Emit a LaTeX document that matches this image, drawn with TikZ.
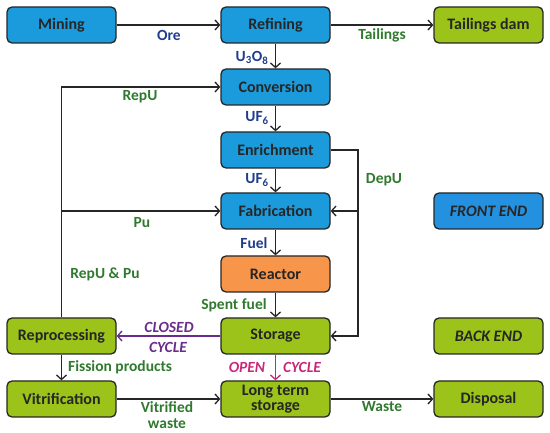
\documentclass[tikz,border=0pt]{standalone}
\usepackage{fontspec}
\setmainfont{Carlito}
\usetikzlibrary{arrows.meta}
\definecolor{bluebox}{HTML}{1B9BDB}
\definecolor{bluebox2}{HTML}{2490E0}
\definecolor{greenbox}{HTML}{9BC31A}
\definecolor{orangebox}{HTML}{F7964A}
\definecolor{bluelab}{HTML}{1F3D8C}
\definecolor{greenlab}{HTML}{2F7A2F}
\definecolor{purplec}{HTML}{6A2C8C}
\definecolor{magentac}{HTML}{C8287A}
\tikzset{
  box/.style={draw=black!85, line width=1.3pt, rounded corners=5pt,
    minimum width=109pt, minimum height=36pt, inner sep=2pt, align=center,
    font=\bfseries\fontsize{16}{15}\selectfont, text=black!85},
  bbox/.style={box, fill=bluebox},
  gbox/.style={box, fill=greenbox},
  obox/.style={box, fill=orangebox},
  arr/.style={line width=1.3pt, draw=black!85, -{Straight Barb[length=4.5pt,width=10pt,line width=1.3pt]}},
  lab/.style={font=\bfseries\fontsize{15.5}{15}\selectfont, inner sep=1pt},
  blab/.style={lab, text=bluelab},
  glab/.style={lab, text=greenlab},
}
\begin{document}
\begin{tikzpicture}[x=1pt,y=-1pt]
\useasboundingbox (0,0) rectangle (550,433);
% boxes
\node[bbox] (min) at (61.5,25) {Mining};
\node[bbox] (ref) at (275.5,25) {Refining};
\node[gbox] (tail) at (488.5,25) {Tailings dam};
\node[bbox] (conv) at (275.5,87) {Conversion};
\node[bbox] (enr) at (275.5,150) {Enrichment};
\node[bbox] (fab) at (275.5,211) {Fabrication};
\node[bbox, fill=bluebox2] (front) at (488.5,211) {\itshape FRONT END};
\node[obox] (reac) at (275.5,274) {Reactor};
\node[gbox] (sto) at (275.5,336) {Storage};
\node[gbox] (rep) at (61.5,336) {Reprocessing};
\node[gbox] (back) at (488.5,336) {\itshape BACK END};
\node[gbox] (vit) at (61.5,399) {Vitrification};
\node[gbox] (lts) at (275.5,399) {Long term\\storage};
\node[gbox] (disp) at (488.5,399) {Disposal};
% coordinates
\coordinate (dep) at (358,150);
% connectors
\draw[arr] (min) -- (ref);
\draw[arr] (ref) -- (tail);
\draw[arr] (ref) -- (conv);
\draw[arr] (conv) -- (enr);
\draw[arr] (enr) -- (fab);
\draw[arr] (fab) -- (reac);
\draw[arr] (reac) -- (sto);
\draw[arr] (rep.north) |- (conv.west);
\draw[arr] (rep.north |- fab.west) -- (fab.west);
\draw[arr] (enr.east) -- (dep) |- (sto.east);
\draw[arr] (dep |- fab.east) -- (fab.east);
\draw[arr, draw=purplec, -{Straight Barb[length=4.5pt,width=10pt,line width=1.3pt,color=purplec]}] (sto) -- (rep);
\draw[arr, draw=magentac, -{Straight Barb[length=4.5pt,width=10pt,line width=1.3pt,color=magentac]}] (sto) -- (lts);
\draw[arr] (rep) -- (vit);
\draw[arr] (vit) -- (lts);
\draw[arr] (lts) -- (disp);
% labels
\node[blab] (lore) at (169,35) {Ore};
\node[glab] (ltail) at (382,35) {Tailings};
\node[blab] (lu3o8) at (252,58) {U\textsubscript{3}O\textsubscript{8}};
\node[blab] (luf1) at (257,118) {UF\textsubscript{6}};
\node[blab] (luf2) at (257,180) {UF\textsubscript{6}};
\node[blab] (lfuel) at (254,243) {Fuel};
\node[glab] (lspent) at (234,305) {Spent fuel};
\node[glab] (lrepu) at (140,97) {RepU};
\node[glab] (lpu) at (142,223) {Pu};
\node[glab] (lrepupu) at (105,274) {RepU \& Pu};
\node[glab] (ldepu) at (384,180) {DepU};
\node[lab, text=purplec] (lclosed) at (169,327) {\itshape CLOSED};
\node[lab, text=purplec] (lcycle1) at (168,347) {\itshape CYCLE};
\node[lab, text=magentac] (lopen) at (247,367) {\itshape OPEN};
\node[lab, text=magentac] (lcycle2) at (302,367) {\itshape CYCLE};
\node[glab, anchor=west] (lfiss) at (67,367) {Fission products};
\node[glab, align=center, font=\bfseries\fontsize{15.5}{16}\selectfont] (lvit) at (167,415) {Vitrified\\waste};
\node[glab] (lwaste) at (382,407) {Waste};
\end{tikzpicture}
\end{document}
